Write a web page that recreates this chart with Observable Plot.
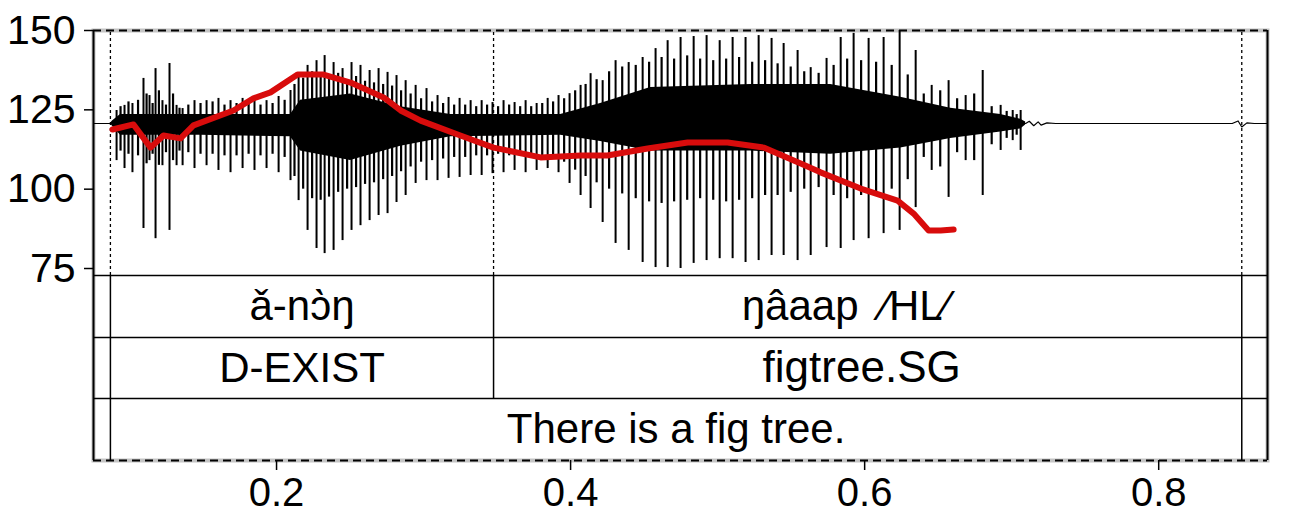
<!DOCTYPE html>
<html><head><meta charset="utf-8">
<script src="https://cdn.jsdelivr.net/npm/d3@7"></script>
<script src="https://cdn.jsdelivr.net/npm/@observablehq/plot@0.6"></script>
<style>body{margin:0;background:#fff} svg{display:block}</style>
</head><body><div id="chart"></div>
<script>
// ---- time axis and pitch axis
const xDomain = [0.0755, 0.874];
const xTicks = [0.2, 0.4, 0.6, 0.8];
const yTicks = [75, 100, 125, 150];
const pitchFloor = 72.8, pitchCeil = 150;

// ---- pitch contour (s, Hz)
const pitchTime = [0.0884,0.1027,0.1143,0.1231,0.1347,0.1435,0.1707,0.1843,0.1959,0.2143,0.232,0.2503,0.2728,0.2844,0.298,0.325,0.3476,0.3796,0.4068,0.425,0.4524,0.4796,0.5068,0.5313,0.5565,0.570,0.5973,0.6224,0.6333,0.6435,0.6517,0.6605];
const pitchHz   = [118.8,120.4,113.1,116.9,116.0,120.1,124.8,128.6,130.5,136.1,136.1,133.6,128.9,124.8,121.6,116.9,113.1,110.0,110.6,110.6,112.8,114.7,114.7,113.1,108.1,105.3,100.2,96.4,92.3,87.0,87.0,87.3];

// ---- waveform, drawn on the pitch panel: glottal pulse extents (top / bottom)
const pulseTime = [0.0912,0.0966,0.1020,0.1095,0.1136,0.1177,0.1224,0.1272,0.1320,0.1361,0.1442,0.1524,0.1605,0.1687,0.1769,0.1850,0.1932,0.2014,0.2095,0.2150,0.2211,0.2272,0.2327,0.2388,0.2449,0.2510,0.2571,0.2633,0.2694,0.2755,0.2816,0.2878,0.2946,0.3020,0.3095,0.3170,0.3245,0.3320,0.3395,0.3469,0.3544,0.3619,0.3694,0.3769,0.3844,0.3918,0.3993,0.4068,0.4136,0.4218,0.4306,0.4395,0.4490,0.4578,0.4660,0.4748,0.4837,0.4925,0.5014,0.5102,0.5190,0.5279,0.5367,0.5449,0.5544,0.5633,0.5741,0.5837,0.5925,0.6027,0.6129,0.6238,0.6347,0.6456,0.6571,0.6687,0.6803,0.6925,0.7007,0.7061];
const pulseTop = [124.8,126.4,127.0,134.9,129.5,138.0,127.9,139.6,126.4,125.4,127.9,127.9,128.6,127.9,128.6,128.9,127.9,129.2,131.1,135.2,139.0,140.5,142.1,139.9,138.0,139.9,139.0,137.4,138.0,136.8,135.8,134.2,132.7,131.7,129.5,128.9,128.6,127.9,127.9,127.3,127.9,127.3,127.9,127.0,128.6,129.5,130.1,132.7,136.4,134.2,140.5,139.9,141.5,144.3,146.8,147.8,148.1,148.4,146.8,147.8,147.8,148.4,147.5,145.9,143.7,138.3,141.2,147.8,149.1,147.5,147.8,150.0,143.7,132.7,134.2,129.5,137.4,126.4,124.8,124.8];
const pulseBottom = [109.0,106.5,105.2,87.6,109.0,84.4,107.4,87.0,107.4,107.4,106.5,107.4,105.9,105.2,106.5,105.9,106.5,105.2,102.7,96.4,87.0,81.3,79.7,80.7,83.8,87.0,88.5,90.1,91.7,92.3,95.8,98.0,101.8,102.7,102.7,103.4,103.7,104.3,104.3,104.9,105.2,105.9,105.2,105.9,106.5,105.2,101.8,98.0,93.9,89.5,82.9,80.7,76.9,75.3,75.3,75.0,76.6,77.5,78.1,78.1,76.9,77.5,79.1,79.1,77.5,79.1,81.6,81.3,83.8,84.4,86.0,87.0,94.2,105.9,97.4,109.0,98.0,112.2,115.3,112.2];

// secondary peaks between the pulses
const minorTime = [0.0939,0.0993,0.1058,0.1116,0.1157,0.1200,0.1248,0.1296,0.1340,0.1400,0.1483,0.1565,0.1646,0.1728,0.1810,0.1891,0.1973,0.2055,
  0.2122,0.2181,0.2242,0.2300,0.2357,0.2419,0.2480,0.2541,0.2602,0.2663,0.2725,0.2786,0.2847,
  0.2912,0.2983,0.3058,0.3133,0.3208,0.3283,0.3358,0.3432,0.3507,0.3582,0.3657,0.3732,0.3807,0.3881,0.3956,0.4031,
  0.4102,0.4177,0.4262,0.4351,0.4443,0.4534,0.4619,0.4704,0.4793,0.4881,0.4970,0.5058,0.5146,0.5235,0.5323,0.5408,0.5497,0.5589,0.5687,
  0.5789,0.5881,0.5976,0.6078,0.6184,0.6293,
  0.6402,0.6514,0.6629,0.6745,0.6864,0.6966,0.7034];
const minorTop = [126.0,127.5,128.0,130.0,127.0,131.0,126.5,130.0,125.5,126.5,127.0,127.5,126.5,127.0,127.5,126.5,127.0,128.0,
  133.0,135.0,137.0,136.0,135.0,136.5,134.5,135.5,134.0,133.5,133.0,132.5,131.0,
  130.0,128.5,127.5,127.0,126.5,126.5,126.0,126.5,126.0,126.5,126.0,126.0,127.0,127.5,128.5,131.0,
  133.0,134.5,137.0,138.5,139.0,140.0,141.5,141.0,142.0,141.0,140.5,141.0,141.5,140.0,140.5,139.5,138.5,137.0,136.5,
  139.0,141.0,140.5,140.0,139.0,136.0,
  130.0,131.0,128.5,130.0,126.0,124.5,123.5];
const minorBottom = [112.0,111.0,110.5,108.0,111.0,107.5,111.5,109.0,112.0,111.5,111.0,111.0,110.5,110.5,111.0,110.5,111.0,110.0,
  104.0,100.0,97.0,96.5,97.5,99.0,100.0,100.5,101.5,102.0,103.0,104.0,105.5,
  107.0,108.5,109.0,109.5,110.0,110.0,110.5,110.5,111.0,110.5,111.0,111.0,110.5,109.5,108.5,106.0,
  104.0,102.0,100.0,98.5,97.0,96.0,95.5,96.0,96.5,97.0,96.5,96.0,96.5,97.0,98.0,98.0,99.0,100.0,100.5,
  98.0,97.0,98.0,99.0,100.0,103.0,
  110.0,107.0,111.5,109.0,114.0,116.0,117.0];

// dense body of the waveform (upper / lower envelope)
const coreTime = [0.0870,0.0884,0.0939,0.1483,0.2095,0.2163,0.2503,0.2844,0.3184,0.3932,0.4204,0.4544,0.5224,0.5769,0.6245,0.6585,0.6925,0.7061,0.7095];
const coreTop  = [120.7,121.5,123.5,123.5,123.5,128.0,130.0,126.0,123.5,123.5,127.0,132.0,133.0,133.0,129.0,125.5,123.5,122.0,121.2];
const coreBottom=[120.7,119.8,117.0,117.0,116.5,112.0,109.0,113.5,116.5,117.0,115.0,112.0,112.0,111.0,113.0,116.0,118.0,119.0,120.2];

// silent stretches of the waveform
const quietTime  = [0.0755,0.0870,0.7095,0.7120,0.7150,0.7180,0.7200,0.7240,0.7300,0.8500,0.8540,0.8565,0.8600,0.8650,0.8740];
const quietValue = [120.7,120.7,120.7,121.4,120.0,121.2,120.2,120.9,120.7,120.7,121.5,119.6,120.9,120.7,120.7];

// ---- annotation tiers
const boundaries = [0.087, 0.3476, 0.8565];
const tierWords  = ["ǎ-nɔ̀ŋ", "ŋâaap\u00a0\u00a0\u2215HL\u2215"];
const tierGloss  = ["D-EXIST", "figtree.SG"];
const tierTrans  = ["There is a fig tree."];
// tier rows sit below the pitch floor on the shared vertical scale
const tierEdges = [72.8, 53.25, 34.0, 14.5];

const pitch = pitchTime.map((t,i)=>({t, hz: pitchHz[i]}));
const pulses = pulseTime.map((t,i)=>({t, hi: pulseTop[i], lo: pulseBottom[i]}));
const minors = minorTime.map((t,i)=>({t, hi: minorTop[i], lo: minorBottom[i]}));
const core = coreTime.map((t,i)=>({t, hi: coreTop[i], lo: coreBottom[i]}));
const quiet = quietTime.map((t,i)=>({t, v: quietValue[i]}));
const mid = (a,b)=> (a+b)/2;
const row = i => mid(tierEdges[i], tierEdges[i+1]);
const labels = [
  {t: mid(boundaries[0],boundaries[1]), y: row(0), s: tierWords[0], dx: 0, fs: 42},
  {t: mid(boundaries[1],boundaries[2]), y: row(0), s: tierWords[1], dx: -22, fs: 42},
  {t: mid(boundaries[0],boundaries[1]), y: row(1), s: tierGloss[0], dx: 0, fs: 42},
  {t: mid(boundaries[1],boundaries[2]), y: row(1), s: tierGloss[1], dx: -6, fs: 44},
  {t: mid(boundaries[0],boundaries[2]), y: row(2), s: tierTrans[0], dx: 0, fs: 42}
];

const chart = Plot.plot({
  width: 1294, height: 516,
  marginLeft: 93, marginRight: 27, marginTop: 30, marginBottom: 56,
  style: {fontFamily: "'Liberation Sans', Arial, sans-serif", fontSize: "41px", background: "#fff", color: "#000"},
  x: {domain: xDomain, label: null},
  y: {domain: [tierEdges[3], pitchCeil], label: null},
  marks: [
    Plot.frame({stroke: "#c4c4c4", strokeWidth: 4}),
    Plot.ruleY([pitchCeil, tierEdges[3]], {stroke: "#000", strokeWidth: 2, strokeDasharray: "8,5"}),
    Plot.ruleX([xDomain[0], xDomain[1]], {stroke: "#000", strokeWidth: 2}),
    // waveform
    Plot.line(quiet, {x: "t", y: "v", stroke: "#000", strokeWidth: 1.2}),
    Plot.areaY(core, {x: "t", y1: "lo", y2: "hi", fill: "#000"}),
    Plot.ruleX(minors, {x: "t", y1: "lo", y2: "hi", stroke: "#000", strokeWidth: 2.2}),
    Plot.ruleX(pulses, {x: "t", y1: "lo", y2: "hi", stroke: "#000", strokeWidth: 2}),
    // boundaries in the pitch panel (dotted)
    Plot.ruleX(boundaries, {y1: pitchFloor, y2: pitchCeil, stroke: "#000", strokeWidth: 1.3, strokeDasharray: "3,3"}),
    // tier grid
    Plot.ruleY(tierEdges.slice(0,3), {stroke: "#000", strokeWidth: 1.5}),
    Plot.ruleX(boundaries, {y1: tierEdges[2], y2: tierEdges[0], stroke: "#000", strokeWidth: 1.5}),
    Plot.ruleX([boundaries[0], boundaries[2]], {y1: tierEdges[3], y2: tierEdges[2], stroke: "#000", strokeWidth: 1.5}),
    // pitch contour
    Plot.line(pitch, {x: "t", y: "hz", stroke: "#d80c0c", strokeWidth: 6, strokeLinejoin: "round", strokeLinecap: "round"}),
    // tier text
    ...labels.map(l => Plot.text([l], {x: "t", y: "y", text: "s", fontSize: l.fs, fill: "#000", lineAnchor: "middle", dx: l.dx})),
    // axes
    Plot.axisY(yTicks, {tickSize: 9, tickPadding: 9, fontSize: 41, strokeWidth: 1.5, label: null}),
    Plot.axisX(xTicks, {tickSize: 10, tickPadding: 7, fontSize: 40, strokeWidth: 1.5, label: null, tickFormat: d => d.toFixed(1)})
  ]
});
document.getElementById("chart").append(chart);
</script>
</body></html>
